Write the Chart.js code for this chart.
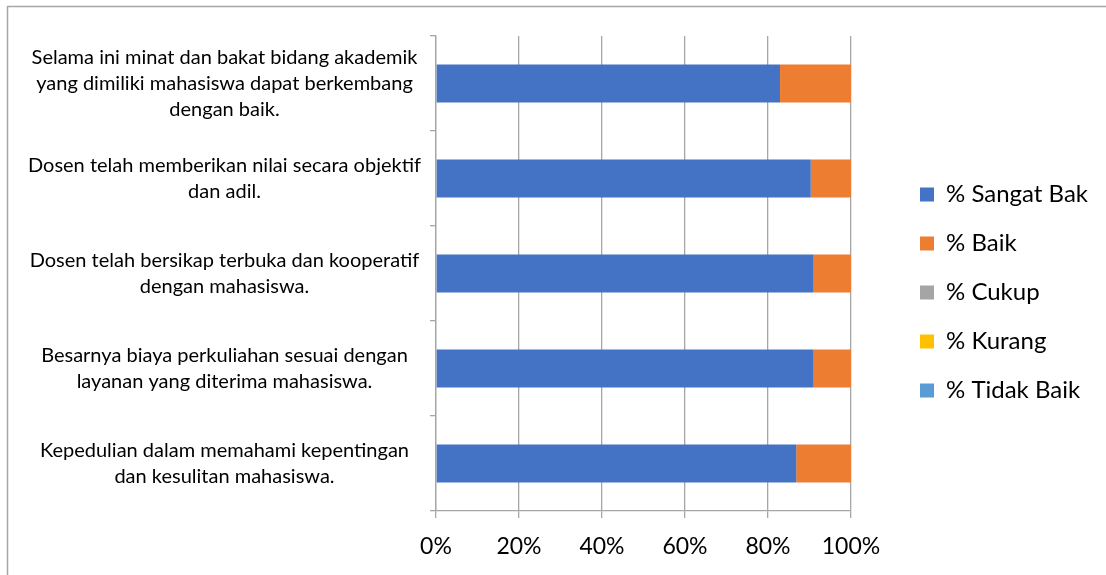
<!DOCTYPE html>
<html lang="id">
<head>
<meta charset="UTF-8">
<title>Penilaian Layanan Akademik</title>
<script src="https://cdn.jsdelivr.net/npm/chart.js"></script>
<style>
  html, body { margin: 0; padding: 0; background: #fff; }
  #chart { display: block; }
</style>
</head>
<body>
<canvas id="chart" width="1106" height="575"></canvas>
<script>
// statements, top to bottom (each one split into its lines)
const pertanyaan = [
  ['Selama ini minat dan bakat bidang akademik', 'yang dimiliki mahasiswa dapat berkembang', 'dengan baik.'],
  ['Dosen telah memberikan nilai secara objektif', 'dan adil.'],
  ['Dosen telah bersikap terbuka dan kooperatif', 'dengan mahasiswa.'],
  ['Besarnya biaya perkuliahan sesuai dengan', 'layanan yang diterima mahasiswa.'],
  ['Kepedulian dalam memahami kepentingan', 'dan kesulitan mahasiswa.']
];

// percentages per answer
const sangatBaik = [82.9, 90.3, 91.0, 91.0, 86.8];
const baik       = [17.1, 9.7, 9.0, 9.0, 13.2];
const cukup      = [0, 0, 0, 0, 0];
const kurang     = [0, 0, 0, 0, 0];
const tidakBaik  = [0, 0, 0, 0, 0];

// x axis ticks (percent)
const xTicks = [0, 20, 40, 60, 80, 100];

const FONT = 'Lato';
const GRID = '#A6A6A6';

// legend sits to the right of a gap, like the spreadsheet one
const LEGEND_WIDTH = 255;
const LEGEND_SHIFT_X = 44;
const LEGEND_SHIFT_Y = -13;

const legendTweak = {
    id: 'legendTweak',
    beforeLayout(chart) {
        const lg = chart.legend;
        if (lg && !lg._fixed) {
            const fit = lg.fit;
            lg.fit = function () {
                fit.call(this);
                this.width = LEGEND_WIDTH;
            };
            lg._fixed = true;
        }
    },
    afterLayout(chart) {
        const lg = chart.legend;
        lg.left += LEGEND_SHIFT_X;
        lg.right += LEGEND_SHIFT_X;
        lg.top += LEGEND_SHIFT_Y;
        lg.bottom += LEGEND_SHIFT_Y;
    }
};

// thin frame round the chart (it runs off the right and bottom edges)
const frame = {
    id: 'frame',
    beforeDraw(chart) {
        const ctx = chart.ctx;
        ctx.save();
        ctx.strokeStyle = GRID;
        ctx.lineWidth = 1.5;
        ctx.strokeRect(7.5, 6.5, chart.width + 20, chart.height + 20);
        ctx.restore();
    }
};

new Chart(document.getElementById('chart'), {
    type: 'bar',
    data: {
        labels: pertanyaan,
        datasets: [
            { label: '% Sangat Bak', data: sangatBaik, backgroundColor: '#4472C4' },
            { label: '% Baik', data: baik, backgroundColor: '#ED7D31' },
            { label: '% Cukup', data: cukup, backgroundColor: '#A5A5A5' },
            { label: '% Kurang', data: kurang, backgroundColor: '#FFC000' },
            { label: '% Tidak Baik', data: tidakBaik, backgroundColor: '#5B9BD5' }
        ]
    },
    options: {
        indexAxis: 'y',
        responsive: false,
        animation: false,
        barPercentage: 0.4,
        categoryPercentage: 1.0,
        layout: { padding: { top: 36, left: 0, right: 0, bottom: 0 } },
        plugins: {
            legend: {
                position: 'right',
                align: 'center',
                labels: {
                    boxWidth: 14,
                    boxHeight: 14,
                    padding: 25,
                    color: '#000',
                    font: { family: FONT, size: 24 }
                }
            },
            tooltip: { enabled: false }
        },
        scales: {
            x: {
                stacked: true,
                min: xTicks[0],
                max: xTicks[xTicks.length - 1],
                ticks: {
                    stepSize: xTicks[1] - xTicks[0],
                    callback: v => v + '%',
                    color: '#000',
                    padding: 15,
                    font: { family: FONT, size: 23 }
                },
                grid: { color: GRID, lineWidth: 1.3, tickLength: 7 },
                border: { color: GRID, width: 1.3 },
                afterFit(s) { s.height = 64; }
            },
            y: {
                stacked: true,
                ticks: {
                    crossAlign: 'center',
                    padding: 9,
                    color: '#000',
                    font: { family: FONT, size: 20, lineHeight: 1.32 }
                },
                grid: { drawOnChartArea: false, color: GRID, lineWidth: 1.3, tickLength: 6 },
                border: { color: GRID, width: 1.3 },
                afterFit(s) {
                    s.width = 436;
                    s.paddingTop = 0;
                    s.paddingBottom = 0;
                }
            }
        }
    },
    plugins: [legendTweak, frame]
});
</script>
</body>
</html>
